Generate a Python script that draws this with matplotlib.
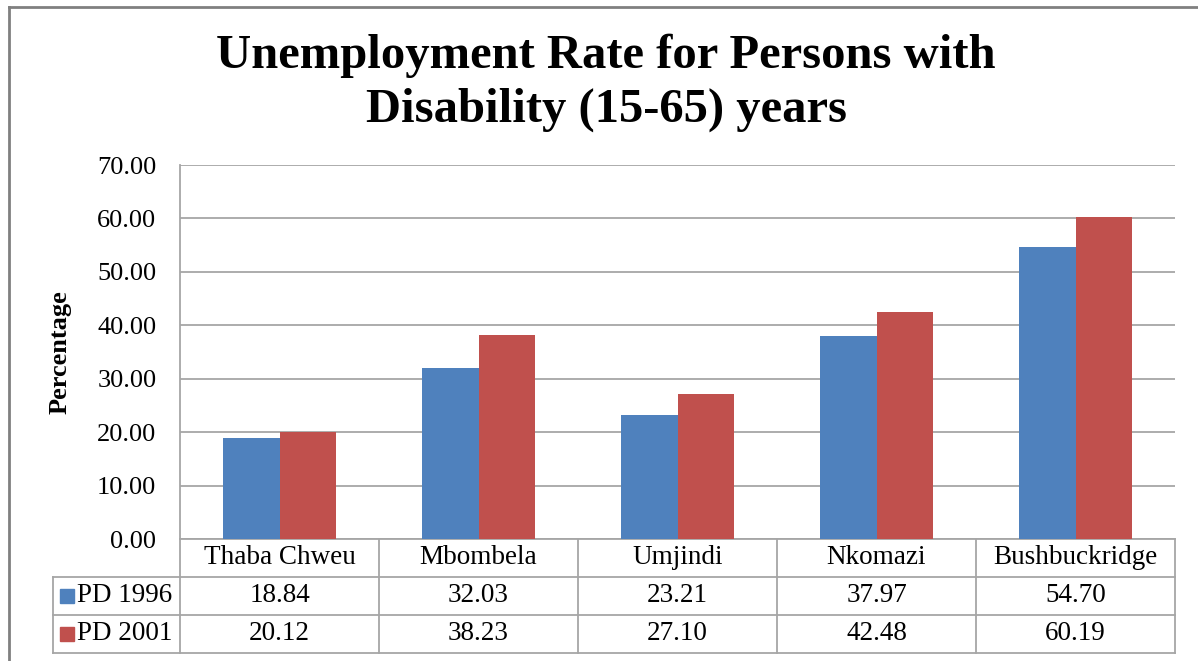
import matplotlib
matplotlib.use("Agg")
import matplotlib.pyplot as plt
from matplotlib.lines import Line2D
from matplotlib.patches import Rectangle
import matplotlib.transforms as mtransforms

categories = ["Thaba Chweu", "Mbombela", "Umjindi", "Nkomazi", "Bushbuckridge"]
series_names = ["PD 1996", "PD 2001"]
pd1996 = [18.84, 32.03, 23.21, 37.97, 54.70]
pd2001 = [20.12, 38.23, 27.10, 42.48, 60.19]
yticks = [0, 10, 20, 30, 40, 50, 60, 70]
colors = ["#4F81BD", "#C0504D"]

W, H = 1198, 661
fig = plt.figure(figsize=(W / 100, H / 100), dpi=100)
fig.patch.set_facecolor("white")
plt.rcParams["font.family"] = ["Liberation Serif", "DejaVu Serif"]

def fx(px):
    return px / W

def fy(py):
    return 1 - py / H

# outer border (top and left visible)
fig.add_artist(Line2D([fx(9), fx(1198)], [fy(7), fy(7)], color="#808080", lw=2))
fig.add_artist(Line2D([fx(9), fx(9)], [fy(7), fy(661)], color="#808080", lw=2))

L, R, T, B = 180, 1175, 165, 539
ax = fig.add_axes([fx(L), fy(B), fx(R) - fx(L), (B - T) / H])
x = list(range(len(categories)))
bw = 0.286
ax.bar([i - bw / 2 for i in x], pd1996, width=bw, color=colors[0], zorder=3)
ax.bar([i + bw / 2 for i in x], pd2001, width=bw, color=colors[1], zorder=3)
ax.set_xlim(-0.5, len(categories) - 0.5)
ax.set_ylim(0, 70)
ax.set_yticks(yticks)
ax.set_yticklabels([f"{v:.2f}" for v in yticks], fontsize=19)
ax.set_xticks([])
ax.tick_params(axis="y", length=0, pad=17)
ax.yaxis.grid(True, color="#a6a6a6", lw=1.3, zorder=0)
for s in ["right", "top"]:
    ax.spines[s].set_visible(False)
for s in ["left", "bottom"]:
    ax.spines[s].set_color("#a6a6a6")
    ax.spines[s].set_linewidth(1.3)
ax.set_ylabel("Percentage", fontsize=19, fontweight="bold", va="center")
ax.yaxis.set_label_coords(fx(60), 0.5,
                          transform=mtransforms.blended_transform_factory(fig.transFigure, ax.transAxes))

# title
fig.text(fx(606), fy(83), "Unemployment Rate for Persons with\nDisability (15-65) years",
         ha="center", va="center", fontsize=35, fontweight="bold", linespacing=1.3)

# data table
tr = mtransforms.blended_transform_factory(ax.transData, fig.transFigure)
row_y = [539, 577, 615, 653]
lc = "#a6a6a6"
n = len(categories)
for yy in row_y[1:]:
    fig.add_artist(Line2D([fx(53), fx(R)], [fy(yy)] * 2, color=lc, lw=1.3))
for k in range(n + 1):
    fig.add_artist(Line2D([k - 0.5, k - 0.5], [fy(row_y[0]), fy(row_y[3])],
                          transform=tr, color=lc, lw=1.3))
fig.add_artist(Line2D([fx(53), fx(53)], [fy(row_y[1]), fy(row_y[3])], color=lc, lw=1.3))

for i, c in enumerate(categories):
    fig.text(i, fy((row_y[0] + row_y[1]) / 2), c, transform=tr, ha="center", va="center", fontsize=19.5)
for r, (name, vals) in enumerate(zip(series_names, [pd1996, pd2001])):
    yc = (row_y[r + 1] + row_y[r + 2]) / 2
    for i, v in enumerate(vals):
        fig.text(i, fy(yc), f"{v:.2f}", transform=tr, ha="center", va="center", fontsize=19.5)
    fig.add_artist(Rectangle((fx(60), fy(yc + 7)), 14 / W, 14 / H, color=colors[r]))
    fig.text(fx(77), fy(yc), name, ha="left", va="center", fontsize=19.5)

fig.savefig("out.png", dpi=100)
